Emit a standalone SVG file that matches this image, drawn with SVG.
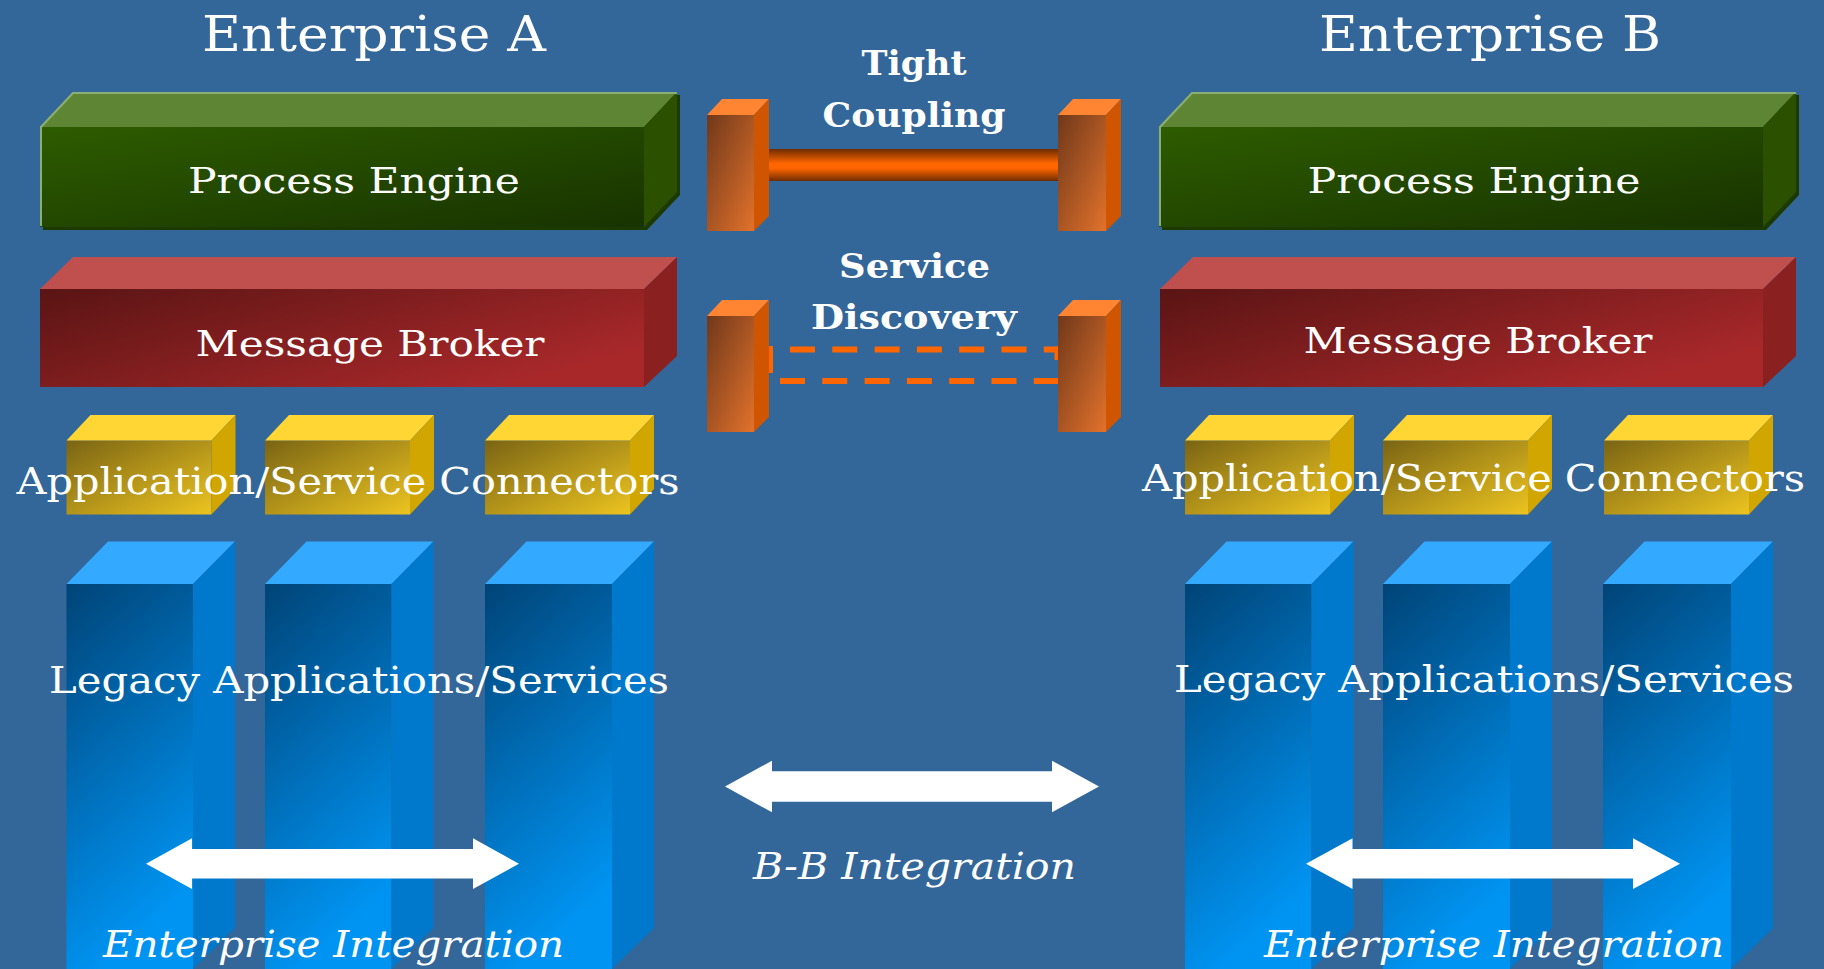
<svg xmlns="http://www.w3.org/2000/svg" width="1824" height="969" viewBox="0 0 1824 969">
<defs>
<linearGradient id="gGreen" x1="0" y1="0" x2="1" y2="1"><stop offset="0" stop-color="#2e5c00"/><stop offset="1" stop-color="#173300"/></linearGradient>
<linearGradient id="gRed" x1="0" y1="0" x2="1" y2="0.6"><stop offset="0" stop-color="#5a1414"/><stop offset="1" stop-color="#a8282a"/></linearGradient>
<linearGradient id="gOrange" x1="0" y1="0" x2="1" y2="1"><stop offset="0" stop-color="#70381a"/><stop offset="1" stop-color="#e2722c"/></linearGradient>
<linearGradient id="gYellow" x1="0" y1="0" x2="1" y2="1"><stop offset="0" stop-color="#7a6414"/><stop offset="1" stop-color="#ecc420"/></linearGradient>
<linearGradient id="gBlue" x1="0" y1="0" x2="0.3" y2="1"><stop offset="0" stop-color="#004477"/><stop offset="1" stop-color="#0094f2"/></linearGradient>
<linearGradient id="gBar" x1="0" y1="0" x2="0" y2="1"><stop offset="0" stop-color="#6e2c00"/><stop offset="0.45" stop-color="#ff6600"/><stop offset="0.6" stop-color="#ff6600"/><stop offset="1" stop-color="#6e2c00"/></linearGradient>
<style>
.bg{fill:#336699}
.t{font-family:"DejaVu Serif","Liberation Serif",serif;font-stretch:condensed;fill:#ffffff;text-anchor:middle}
.tb{font-weight:bold}
.ti{font-style:italic}
.gTop{fill:#5e8534}.gRight{fill:#2a5000}.gShadow{fill:#1c3a00}.gEdge{fill:none;stroke:#8cae72;stroke-width:2}
.rTop{fill:#bf504e}.rRight{fill:#8a2020}
.oTop{fill:#ff8533}.oRight{fill:#d05500}
.yTop{fill:#ffd633}.yRight{fill:#d2a600}
.bTop{fill:#33aaff}.bRight{fill:#0078cc}
.dash{stroke:#ff6600;stroke-width:6;fill:none;stroke-dasharray:25 17.3}
.arrow{fill:#ffffff}
</style>
</defs>
<rect class="bg" x="0" y="0" width="1824" height="969"/>

<g id="title-a"><text class="t" x="374" y="51" font-size="49" textLength="344" lengthAdjust="spacingAndGlyphs">Enterprise A</text></g>
<g id="title-b"><text class="t" x="1490" y="51" font-size="49" textLength="342" lengthAdjust="spacingAndGlyphs">Enterprise B</text></g>

<g id="process-engine-a">
<polygon class="gShadow" points="43,130 76,95 680,95 680,195 647,230 43,230"/>
<rect x="40" y="127" width="604" height="100" fill="url(#gGreen)"/>
<polygon class="gTop" points="40,127 73,92 677,92 644,127"/>
<polygon class="gRight" points="644,127 677,92 677,192 644,227"/>
<polyline class="gEdge" points="41,226 41,127 73,93 677,93"/>
<text class="t" x="354" y="193" font-size="36" textLength="332" lengthAdjust="spacingAndGlyphs">Process Engine</text>
</g>

<g id="process-engine-b">
<polygon class="gShadow" points="1162,130 1195,95 1799,95 1799,195 1766,230 1162,230"/>
<rect x="1159" y="127" width="604" height="100" fill="url(#gGreen)"/>
<polygon class="gTop" points="1159,127 1192,92 1796,92 1763,127"/>
<polygon class="gRight" points="1763,127 1796,92 1796,192 1763,227"/>
<polyline class="gEdge" points="1160,226 1160,127 1192,93 1796,93"/>
<text class="t" x="1474" y="193" font-size="36" textLength="333" lengthAdjust="spacingAndGlyphs">Process Engine</text>
</g>

<g id="message-broker-a">
<rect x="40" y="289" width="604" height="98" fill="url(#gRed)"/>
<polygon class="rTop" points="40,289 73,257 677,257 644,289"/>
<polygon class="rRight" points="644,289 677,257 677,356 644,387"/>
<text class="t" x="370" y="356" font-size="36" textLength="349" lengthAdjust="spacingAndGlyphs">Message Broker</text>
</g>

<g id="message-broker-b">
<rect x="1160" y="289" width="603" height="98" fill="url(#gRed)"/>
<polygon class="rTop" points="1160,289 1193,257 1796,257 1763,289"/>
<polygon class="rRight" points="1763,289 1796,257 1796,356 1763,387"/>
<text class="t" x="1478" y="353" font-size="36" textLength="349" lengthAdjust="spacingAndGlyphs">Message Broker</text>
</g>

<g id="connectors-a">
<rect x="66.5" y="440.5" width="145" height="74" fill="url(#gYellow)"/>
<polygon class="yTop" points="66.5,440.5 90.5,415 235.5,415 211.5,440.5"/>
<polygon class="yRight" points="211.5,440.5 235.5,415 235.5,489 211.5,514.5"/>
<rect x="265" y="440.5" width="145" height="74" fill="url(#gYellow)"/>
<polygon class="yTop" points="265,440.5 289,415 434,415 410,440.5"/>
<polygon class="yRight" points="410,440.5 434,415 434,489 410,514.5"/>
<rect x="485" y="440.5" width="145" height="74" fill="url(#gYellow)"/>
<polygon class="yTop" points="485,440.5 509,415 654,415 630,440.5"/>
<polygon class="yRight" points="630,440.5 654,415 654,489 630,514.5"/>
<text class="t" x="348" y="493.5" font-size="36.5" textLength="663" lengthAdjust="spacingAndGlyphs">Application/Service Connectors</text>
</g>

<g id="connectors-b">
<rect x="1185" y="440.5" width="145" height="74" fill="url(#gYellow)"/>
<polygon class="yTop" points="1185,440.5 1209,415 1354,415 1330,440.5"/>
<polygon class="yRight" points="1330,440.5 1354,415 1354,489 1330,514.5"/>
<rect x="1383" y="440.5" width="145" height="74" fill="url(#gYellow)"/>
<polygon class="yTop" points="1383,440.5 1407,415 1552,415 1528,440.5"/>
<polygon class="yRight" points="1528,440.5 1552,415 1552,489 1528,514.5"/>
<rect x="1604" y="440.5" width="145" height="74" fill="url(#gYellow)"/>
<polygon class="yTop" points="1604,440.5 1628,415 1773,415 1749,440.5"/>
<polygon class="yRight" points="1749,440.5 1773,415 1773,489 1749,514.5"/>
<text class="t" x="1473.5" y="490.7" font-size="36.5" textLength="663" lengthAdjust="spacingAndGlyphs">Application/Service Connectors</text>
</g>

<g id="legacy-a">
<rect x="66.5" y="584" width="126.5" height="385" fill="url(#gBlue)"/>
<polygon class="bTop" points="66.5,584 108,541.5 235,541.5 193,584"/>
<polygon class="bRight" points="193,584 235,541.5 235,928 193,969"/>
<rect x="265" y="584" width="126.5" height="385" fill="url(#gBlue)"/>
<polygon class="bTop" points="265,584 306.5,541.5 433.5,541.5 391.5,584"/>
<polygon class="bRight" points="391.5,584 433.5,541.5 433.5,928 391.5,969"/>
<rect x="485" y="584" width="127" height="385" fill="url(#gBlue)"/>
<polygon class="bTop" points="485,584 526.5,541.5 654,541.5 612,584"/>
<polygon class="bRight" points="612,584 654,541.5 654,928 612,969"/>
<text class="t" x="359" y="693" font-size="36.5" textLength="620" lengthAdjust="spacingAndGlyphs">Legacy Applications/Services</text>
</g>

<g id="legacy-b">
<rect x="1185" y="584" width="126.5" height="385" fill="url(#gBlue)"/>
<polygon class="bTop" points="1185,584 1226.5,541.5 1353.5,541.5 1311.5,584"/>
<polygon class="bRight" points="1311.5,584 1353.5,541.5 1353.5,928 1311.5,969"/>
<rect x="1383" y="584" width="127" height="385" fill="url(#gBlue)"/>
<polygon class="bTop" points="1383,584 1424.5,541.5 1552,541.5 1510,584"/>
<polygon class="bRight" points="1510,584 1552,541.5 1552,928 1510,969"/>
<rect x="1603" y="584" width="128" height="385" fill="url(#gBlue)"/>
<polygon class="bTop" points="1603,584 1644.5,541.5 1773,541.5 1731,584"/>
<polygon class="bRight" points="1731,584 1773,541.5 1773,928 1731,969"/>
<text class="t" x="1484" y="692" font-size="36.5" textLength="620" lengthAdjust="spacingAndGlyphs">Legacy Applications/Services</text>
</g>

<g id="connectors">
<rect x="768" y="149" width="291" height="32" fill="url(#gBar)"/>
<line class="dash" x1="790" y1="349.5" x2="1060" y2="349.5"/>
<line class="dash" x1="780" y1="381" x2="1060" y2="381"/>
<line x1="770" y1="346" x2="770" y2="373" stroke="#ff6600" stroke-width="6"/>
<line x1="1057" y1="346.5" x2="1057" y2="360" stroke="#ff6600" stroke-width="5"/>
<polygon class="arrow" points="146,863.7 192,838.3 192,849 473,849 473,838.3 519,863.7 473,889.1 473,878.4 192,878.4 192,889.1"/>
<polygon class="arrow" points="1306,863.7 1352.5,838.3 1352.5,849 1633,849 1633,838.3 1680,863.7 1633,889.1 1633,878.4 1352.5,878.4 1352.5,889.1"/>
<polygon class="arrow" points="725,786.5 772,760.7 772,771.2 1052,771.2 1052,760.7 1099,786.5 1052,812.3 1052,801.8 772,801.8 772,812.3"/>
</g>

<g id="tight-left">
<rect x="707" y="115" width="47" height="116" fill="url(#gOrange)"/>
<polygon class="oTop" points="707,115 722,99 769,99 754,115"/>
<polygon class="oRight" points="754,115 769,99 769,216 754,231"/>
</g>
<g id="tight-right">
<rect x="1058" y="115" width="48" height="116" fill="url(#gOrange)"/>
<polygon class="oTop" points="1058,115 1073,99 1121,99 1106,115"/>
<polygon class="oRight" points="1106,115 1121,99 1121,216 1106,231"/>
</g>
<g id="discovery-left">
<rect x="707" y="316" width="47" height="116" fill="url(#gOrange)"/>
<polygon class="oTop" points="707,316 722,300 769,300 754,316"/>
<polygon class="oRight" points="754,316 769,300 769,417 754,432"/>
</g>
<g id="discovery-right">
<rect x="1058" y="316" width="48" height="116" fill="url(#gOrange)"/>
<polygon class="oTop" points="1058,316 1073,300 1121,300 1106,316"/>
<polygon class="oRight" points="1106,316 1121,300 1121,417 1106,432"/>
</g>

<g id="labels">
<text class="t tb" x="914" y="75" font-size="33" textLength="105" lengthAdjust="spacingAndGlyphs">Tight</text>
<text class="t tb" x="914" y="127" font-size="33" textLength="183" lengthAdjust="spacingAndGlyphs">Coupling</text>
<text class="t tb" x="914.5" y="278" font-size="33" textLength="151" lengthAdjust="spacingAndGlyphs">Service</text>
<text class="t tb" x="914" y="329" font-size="33" textLength="206" lengthAdjust="spacingAndGlyphs">Discovery</text>
<text class="t ti" x="333.5" y="957" font-size="36.5" textLength="461" lengthAdjust="spacingAndGlyphs">Enterprise Integration</text>
<text class="t ti" x="1494" y="957" font-size="36.5" textLength="460" lengthAdjust="spacingAndGlyphs">Enterprise Integration</text>
<text class="t ti" x="914.5" y="879" font-size="36.5" textLength="323" lengthAdjust="spacingAndGlyphs">B-B Integration</text>
</g>
</svg>
